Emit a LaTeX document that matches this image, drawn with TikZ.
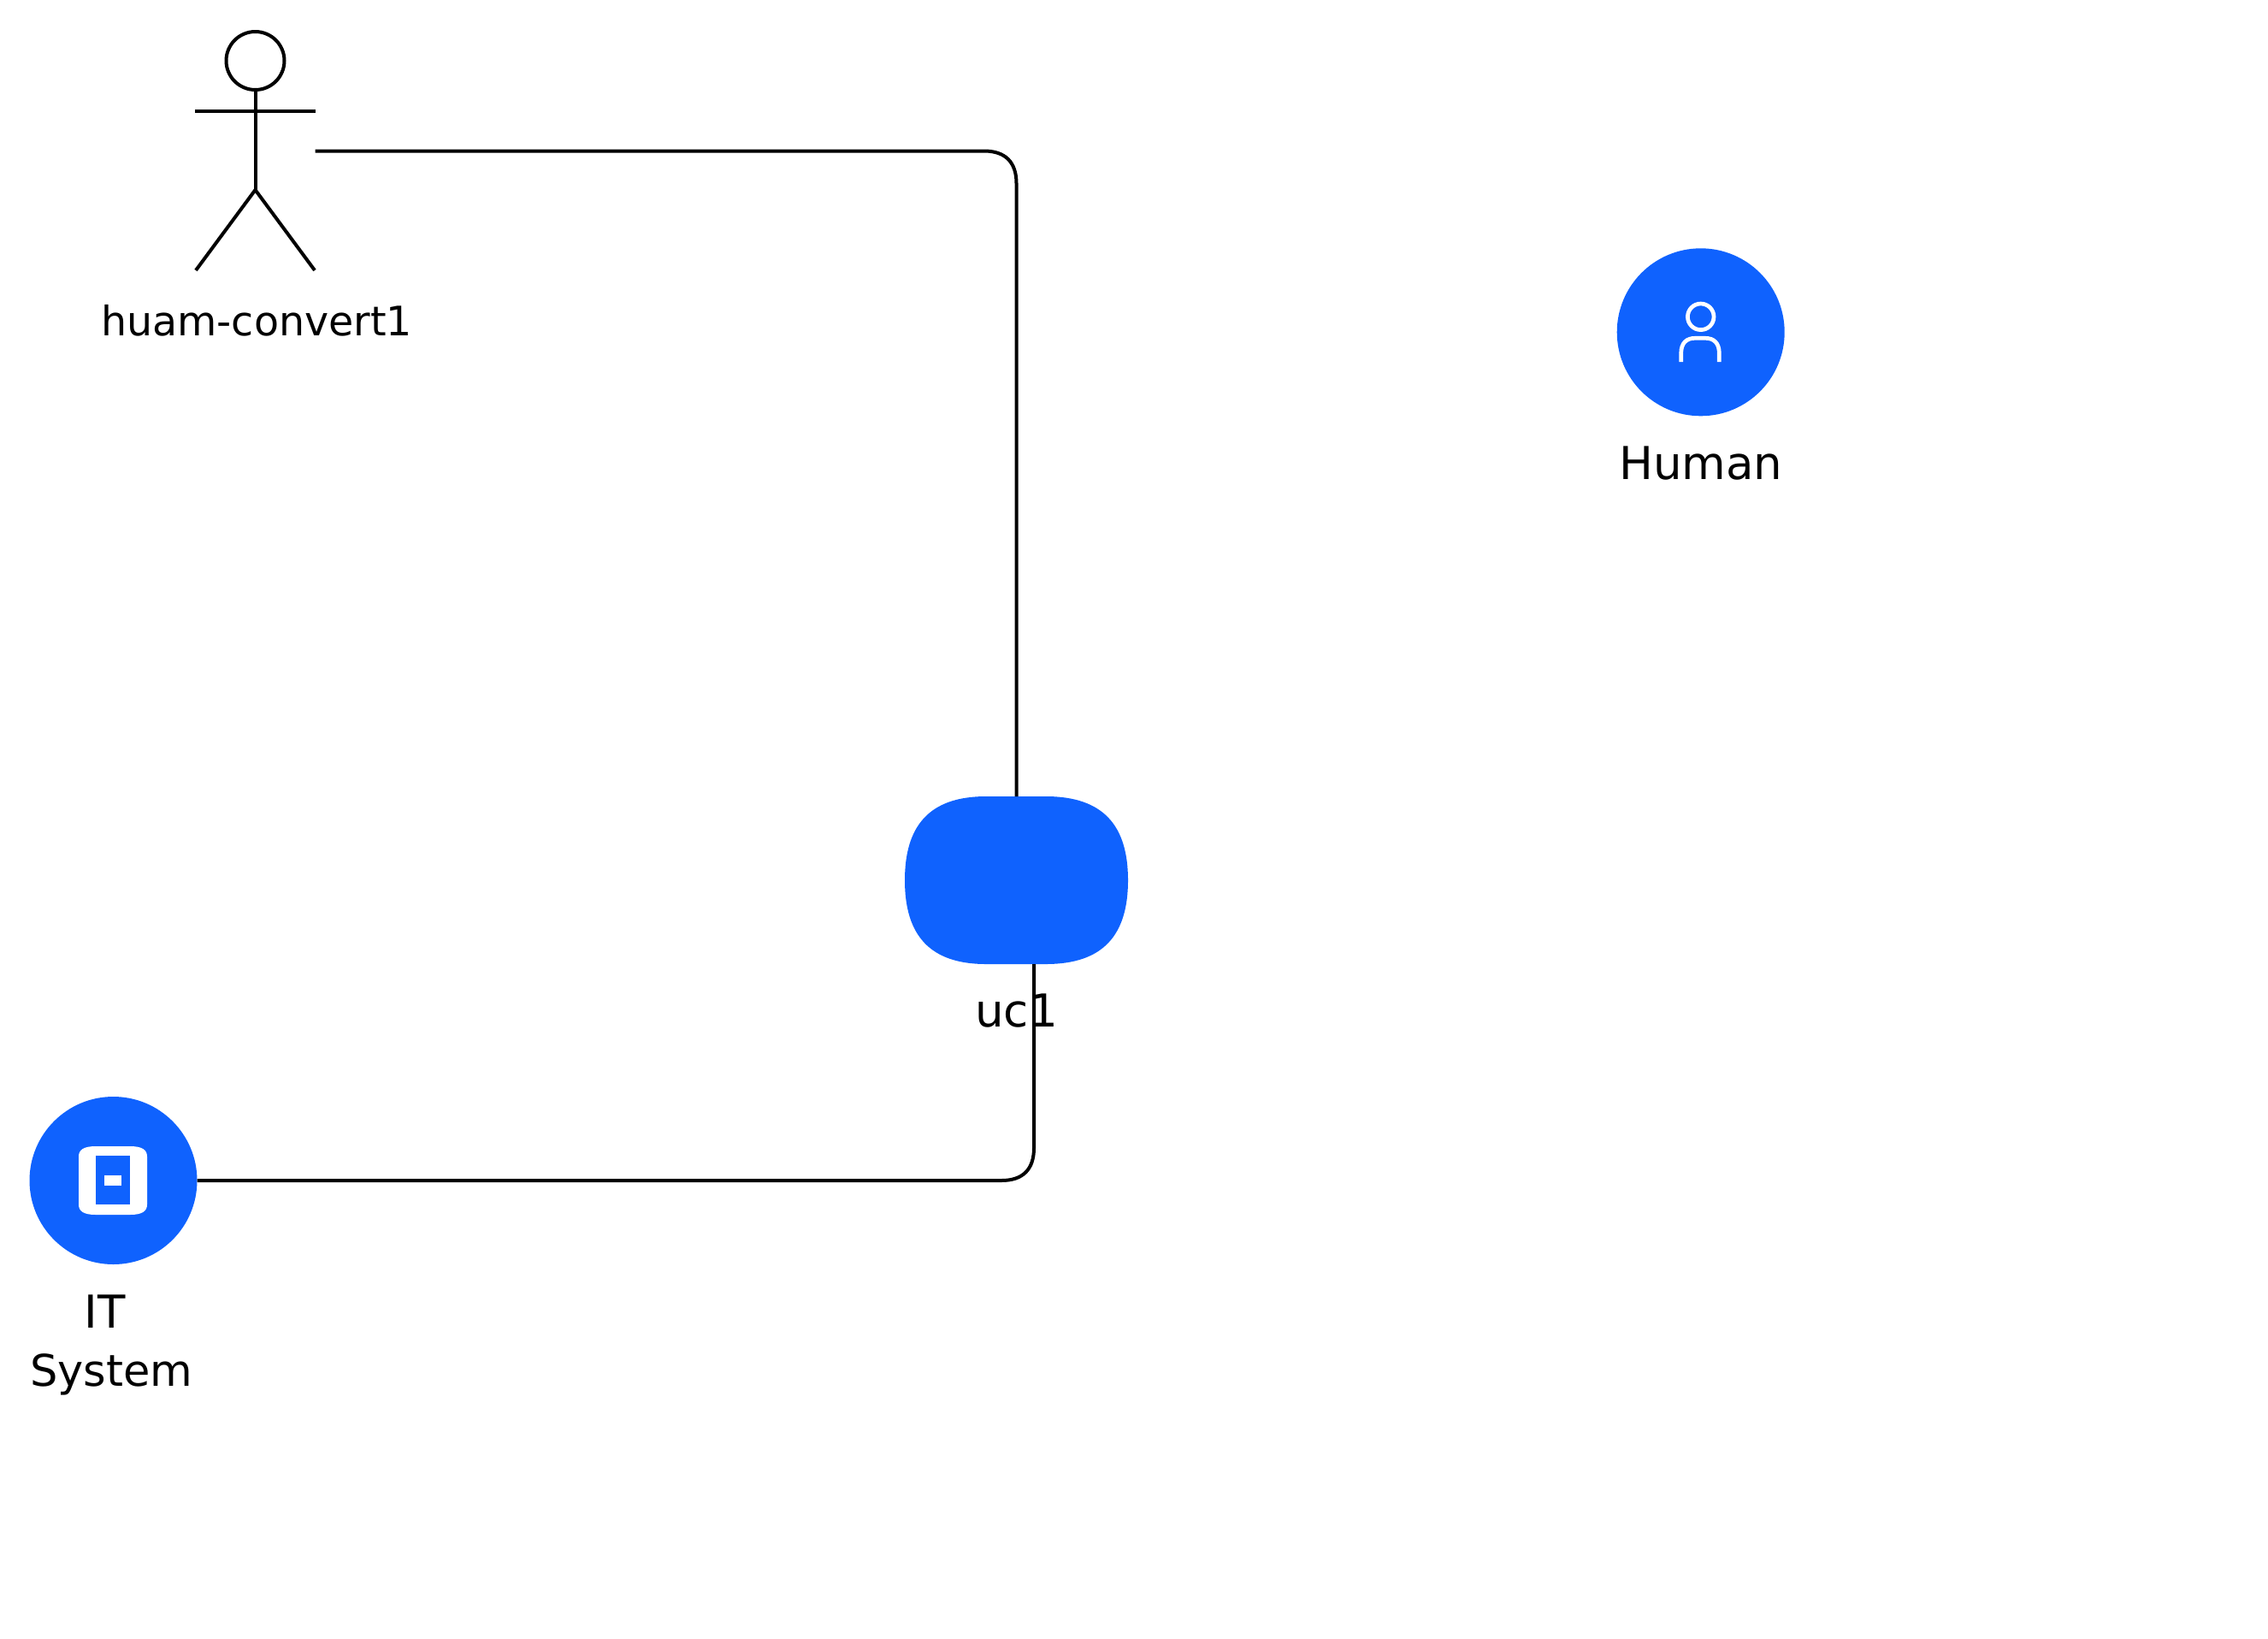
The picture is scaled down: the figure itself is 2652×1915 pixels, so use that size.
\documentclass[tikz,border=0pt]{standalone}
\usepackage{fontspec}
\usetikzlibrary{calc}
\setmainfont{DejaVu Sans}
\definecolor{ibmblue}{HTML}{0F62FE}
\tikzset{
  x=1pt,y=-1pt,
  wire/.style={draw=black,line width=4pt,line join=round},
  limb/.style={draw=black,line width=4pt},
  disc/.style={circle,fill=ibmblue,minimum size=196pt,inner sep=0pt},
  lbl/.style={anchor=base,inner sep=0pt,text=black,font=\fontsize{53}{53}\selectfont},
  glyph/.style={draw=white,line width=4.7pt},
  ghost/.style={inner sep=0pt,outer sep=0pt}
}
\begin{document}
\begin{tikzpicture}
\useasboundingbox (0,0) rectangle (2652,1915);
\fill[white] (0,0) rectangle (2652,1915);

% actor
\node[ghost,minimum width=140.5pt,minimum height=279pt] (actor) at (298.25,176.5) {};
\draw[limb] (298.5,71) circle[radius=34pt];
\draw[limb] (228,129.5) -- (368.5,129.5);
\draw[limb] (298.5,105) -- (298.5,222);
\draw[limb,line join=miter] (229,316) -- (298.5,222) -- (368,316);
\node[lbl,font=\fontsize{47.5}{47.5}\selectfont] (actorlbl) at (300,392.7) {huam-convert1};

% use case
\node[ghost,minimum width=261pt,minimum height=196pt] (uc) at (1188.5,1029) {};
\fill[ibmblue] (1153,931) -- (1223,931)
  .. controls (1290,931) and (1319,965) .. (1319,1029)
  .. controls (1319,1093) and (1290,1127) .. (1223,1127)
  -- (1153,1127)
  .. controls (1087,1127) and (1058,1093) .. (1058,1029)
  .. controls (1058,965) and (1087,931) .. (1153,931) -- cycle;
\coordinate (ucb) at (1209,1127);
\node[lbl] (uclbl) at (1188.5,1200) {uc1};

% IT system
\node[disc] (it) at (132.5,1380) {};
\fill[white] (112,1340) -- (152,1340)
  .. controls (166,1340) and (172,1344) .. (172,1352)
  -- (172,1408)
  .. controls (172,1416) and (166,1420) .. (152,1420)
  -- (112,1420)
  .. controls (98,1420) and (92,1416) .. (92,1408)
  -- (92,1352)
  .. controls (92,1344) and (98,1340) .. (112,1340) -- cycle;
\fill[ibmblue] (112,1351) rectangle (152,1408);
\fill[white] (122,1374) rectangle (142,1386);
\node[lbl] (itlbla) at (122.5,1552) {IT};
\node[lbl,font=\fontsize{51}{51}\selectfont] (itlblb) at (130.5,1620) {System};

% human
\node[disc] (human) at (1988.7,388.3) {};
\draw[glyph] (1988.7,370.3) circle[radius=15.3pt];
\draw[glyph] (1965.7,423) -- (1965.7,413)
  .. controls (1965.7,401) and (1972,395.3) .. (1982,395.3) -- (1994,395.3)
  .. controls (2004,395.3) and (2010.3,401) .. (2010.3,413) -- (2010.3,423);
\node[lbl] (humanlbl) at (1988.7,560) {Human};

% connectors
\coordinate (bendtop) at (actor.east -| uc.north);
\coordinate (bendlow) at (it.east -| ucb);
\draw[wire] (actor.east) -- ($(bendtop)+(-38,0)$)
  .. controls ($(bendtop)+(-13,0)$) and ($(bendtop)+(0,13)$) .. ($(bendtop)+(0,38)$) -- (uc.north);
\draw[wire] (it.east) -- ($(bendlow)+(-38,0)$)
  .. controls ($(bendlow)+(-13,0)$) and ($(bendlow)+(0,-13)$) .. ($(bendlow)+(0,-38)$) -- (ucb);
\end{tikzpicture}
\end{document}
